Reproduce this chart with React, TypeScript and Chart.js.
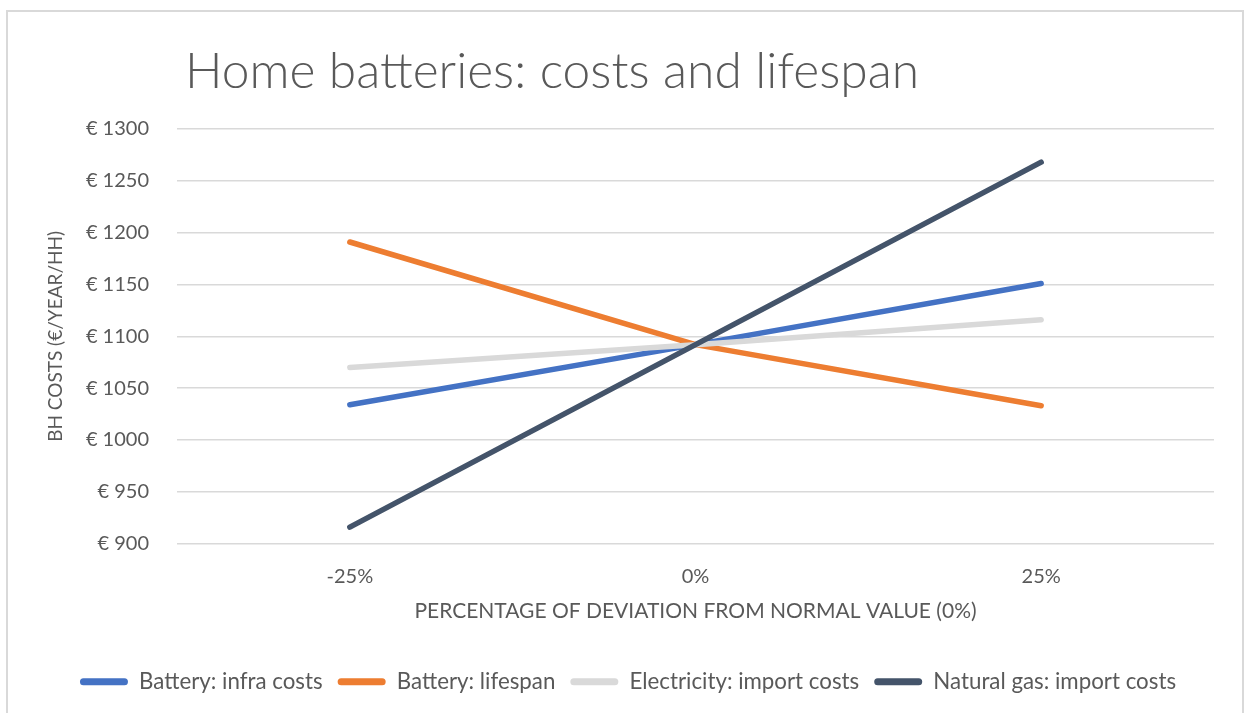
import React, { useEffect, useRef } from "react";
import { Chart, registerables } from "chart.js";

Chart.register(...registerables);

const categories = ["-25%", "0%", "25%"];
const batteryInfraCosts = [1034, 1092, 1151];
const batteryLifespan = [1191, 1092, 1033];
const electricityImportCosts = [1070, 1092, 1116];
const naturalGasImportCosts = [916, 1092, 1268];
const yTicksMin = 900;
const yTicksMax = 1300;
const yTickStep = 50;

const chartTitle = "Home batteries: costs and lifespan";
const yAxisTitle = "BH COSTS (€/YEAR/HH)";
const xAxisTitle = "PERCENTAGE OF DEVIATION FROM NORMAL VALUE (0%)";

const FONT = "Lato, 'Open Sans', sans-serif";
const TEXT = "#595959";

const titlePlugin = {
  id: "leftTitle",
  afterDraw(chart: any) {
    const { ctx } = chart;
    ctx.save();
    ctx.font = `300 49.7px ${FONT}`;
    ctx.fillStyle = TEXT;
    ctx.textAlign = "left";
    ctx.textBaseline = "alphabetic";
    ctx.fillText(chartTitle, 185, 88);
    ctx.restore();
  },
};

export default function App() {
  const ref = useRef<HTMLCanvasElement>(null);

  useEffect(() => {
    if (!ref.current) return;
    const mk = (label: string, data: number[], color: string, order: number) => ({
      label,
      data,
      borderColor: color,
      backgroundColor: color,
      borderWidth: 5.5,
      borderCapStyle: "round" as const,
      borderJoinStyle: "round" as const,
      pointRadius: 0,
      pointHoverRadius: 0,
      fill: false,
      tension: 0,
      order,
    });
    const chart = new Chart(ref.current, {
      type: "line",
      data: {
        labels: categories,
        datasets: [
          mk("Battery: infra costs", batteryInfraCosts, "#4472C4", 4),
          mk("Battery: lifespan", batteryLifespan, "#ED7D31", 3),
          mk("Electricity: import costs", electricityImportCosts, "#D9D9D9", 2),
          mk("Natural gas: import costs", naturalGasImportCosts, "#44546A", 1),
        ],
      },
      options: {
        animation: false,
        responsive: true,
        maintainAspectRatio: false,
        layout: { padding: { left: 42, right: 30, top: 129, bottom: 10 } },
        plugins: {
          title: { display: false },
          tooltip: { enabled: false },
          legend: {
            position: "bottom",
            labels: {
              font: { family: FONT, size: 22.3 },
              color: TEXT,
              boxWidth: 48,
              boxHeight: 7,
              padding: 15,
              useBorderRadius: true,
              borderRadius: 3.5,
              generateLabels(c: any) {
                return c.data.datasets.map((ds: any, i: number) => ({
                  text: ds.label,
                  fillStyle: ds.borderColor,
                  strokeStyle: ds.borderColor,
                  lineWidth: 0,
                  hidden: false,
                  datasetIndex: i,
                  fontColor: TEXT,
                  borderRadius: 3.5,
                }));
              },
            },
          },
        },
        scales: {
          x: {
            type: "category",
            offset: true,
            grid: { display: false, drawTicks: false },
            border: { display: false },
            ticks: {
              font: { family: FONT, size: 20 },
              color: TEXT,
              padding: 21,
            },
            title: {
              display: true,
              text: xAxisTitle,
              font: { family: FONT, size: 21 },
              color: TEXT,
              padding: { top: 0, bottom: 32 },
            },
            afterFit(scale: any) {
              scale.height = 112;
            },
          },
          y: {
            min: yTicksMin,
            max: yTicksMax,
            grid: { color: "#D9D9D9", lineWidth: 1.5, drawTicks: false },
            border: { display: false },
            ticks: {
              stepSize: yTickStep,
              font: { family: FONT, size: 20 },
              color: TEXT,
              padding: 28,
              callback: (v: any) => `€ ${v}`,
            },
            title: {
              display: true,
              text: yAxisTitle,
              font: { family: FONT, size: 19 },
              color: TEXT,
              padding: { top: 2, bottom: 0 },
            },
            afterFit(scale: any) {
              scale.width = 135;
            },
          },
        },
      },
      plugins: [titlePlugin],
    });
    return () => chart.destroy();
  }, []);

  return (
    <div style={{ position: "fixed", left: 0, top: 0, width: 1244, height: 713, background: "#fff" }}>
      <canvas ref={ref} />
      <div
        style={{
          position: "absolute",
          left: 6,
          top: 10,
          width: 1238,
          height: 720,
          border: "2px solid #D9D9D9",
          boxSizing: "border-box",
          pointerEvents: "none",
        }}
      />
    </div>
  );
}
